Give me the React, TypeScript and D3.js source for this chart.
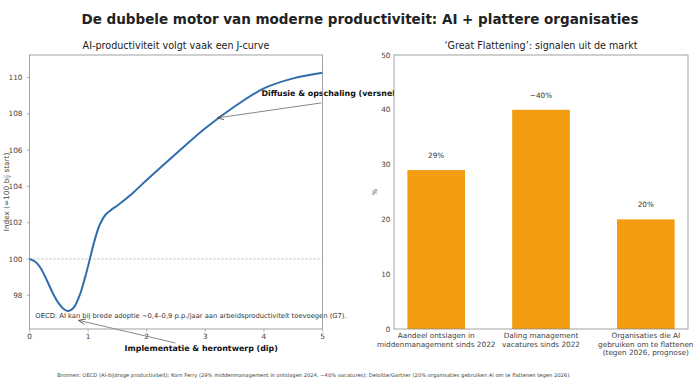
import React from "react";
import * as d3 from "d3";

const TITLE = "De dubbele motor van moderne productiviteit: AI + plattere organisaties";
const LEFT_TITLE = "AI-productiviteit volgt vaak een J-curve";
const RIGHT_TITLE = "\u2018Great Flattening\u2019: signalen uit de markt";
const FOOTER =
  "Bronnen: OECD (AI-bijdrage productiviteit); Korn Ferry (29% middenmanagement in ontslagen 2024, \u221240% vacatures); Deloitte/Gartner (20% organisaties gebruiken AI om te flattenen tegen 2026).";

// J-curve series (years since start, index =100 at start)
const jYears = [0, 0.1, 0.2, 0.3, 0.4, 0.5, 0.6, 0.66, 0.75, 0.85, 0.95, 1.03, 1.1, 1.2, 1.3, 1.4, 1.5, 1.75, 2, 2.5, 3, 3.5, 4, 4.5, 5];
const jIndex = [100, 99.85, 99.45, 98.8, 98.1, 97.55, 97.2, 97.13, 97.3, 97.95, 99.0, 100, 100.9, 101.9, 102.45, 102.72, 102.95, 103.6, 104.35, 105.8, 107.2, 108.4, 109.4, 109.95, 110.26];
const jXTicks = [0, 1, 2, 3, 4, 5];
const jYTicks = [98, 100, 102, 104, 106, 108, 110];

// Bar series
const barCategories = [
  ["Aandeel ontslagen in", "middenmanagement sinds 2022"],
  ["Daling management", "vacatures sinds 2022"],
  ["Organisaties die AI", "gebruiken om te flattenen", "(tegen 2026, prognose)"],
];
const barValues = [29, 40, 20];
const barLabels = ["29%", "\u221240%", "20%"];
const barYTicks = [0, 10, 20, 30, 40, 50];

const FONT = "DejaVu Sans, sans-serif";
const SPINE = "#8a8a8a";
const TICKTXT = "#444";
const TICK_FS = 7.3;

export default function App() {
  // left panel geometry
  const L = { x0: 29.5, x1: 322.5, y0: 55, y1: 329 };
  const x = d3.scaleLinear().domain([0, 5]).range([L.x0, L.x1]);
  const y = d3.scaleLinear().domain([96.14, 111.24]).range([L.y1, L.y0]);
  const pts = jYears.map((t, i) => [t, jIndex[i]] as [number, number]);
  const line = d3
    .line<[number, number]>()
    .x((d) => x(d[0]))
    .y((d) => y(d[1]))
    .curve(d3.curveCatmullRom.alpha(0.5));

  // right panel geometry
  const R = { x0: 394, x1: 688, y0: 55, y1: 329 };
  const bx = d3
    .scaleBand<number>()
    .domain(barValues.map((_, i) => i))
    .range([R.x0, R.x1])
    .paddingInner(0.45)
    .paddingOuter(0.1275);
  const by = d3.scaleLinear().domain([0, 50]).range([R.y1, R.y0]);

  // annotation anchors (data coords)
  const ann1Text = [3.957, 109.13];
  const ann1Tail = [4.98, 108.6];
  const ann1Tip = [3.2, 107.77];
  const ann2Text = [2.93, 95.1];
  const ann2Tail = [2.49, 95.37];
  const ann2Tip = [0.834, 96.62];

  return (
    <svg
      width={700}
      height={380}
      style={{ position: "absolute", left: 0, top: 0, background: "#fff" }}
      fontFamily={FONT}
    >
      <defs>
        <marker id="arr" viewBox="0 0 10 10" refX="10" refY="5" markerWidth="7" markerHeight="7" orient="auto-start-reverse" markerUnits="userSpaceOnUse">
          <path d="M0,1 L10,5 L0,9" fill="none" stroke="#555" strokeWidth={1.2} />
        </marker>
      </defs>
      <rect width={700} height={380} fill="#fff" />
      <text x={360} y={24} textAnchor="middle" fontSize={13.5} fontWeight="bold" fill="#222">
        {TITLE}
      </text>

      {/* LEFT PANEL */}
      <text x={(L.x0 + L.x1) / 2} y={48.5} textAnchor="middle" fontSize={9.6} fill="#222">
        {LEFT_TITLE}
      </text>
      <line x1={L.x0} x2={L.x1} y1={y(100)} y2={y(100)} stroke="#aaa" strokeWidth={0.8} strokeDasharray="2,2" />
      <path d={line(pts) || ""} fill="none" stroke="#2f6eaa" strokeWidth={2} />
      {jYTicks.map((t) => (
        <g key={"ly" + t}>
          <line x1={L.x0 - 3} x2={L.x0} y1={y(t)} y2={y(t)} stroke={SPINE} strokeWidth={0.6} />
          <text x={L.x0 - 7} y={y(t)} dy="0.35em" textAnchor="end" fontSize={TICK_FS} fill={TICKTXT}>
            {t}
          </text>
        </g>
      ))}
      {jXTicks.map((t) => (
        <g key={"lx" + t}>
          <line x1={x(t)} x2={x(t)} y1={L.y1} y2={L.y1 + 3} stroke={SPINE} strokeWidth={0.6} />
          <text x={x(t)} y={L.y1 + 5.2} dy="0.71em" textAnchor="middle" fontSize={TICK_FS} fill={TICKTXT}>
            {t}
          </text>
        </g>
      ))}
      <text
        transform={`translate(6.5,${(L.y0 + L.y1) / 2}) rotate(-90)`}
        textAnchor="middle"
        dy="0.35em"
        fontSize={TICK_FS}
        fill={TICKTXT}
      >
        Index (=100 bij start)
      </text>
      <text x={L.x0 + 0.02 * (L.x1 - L.x0)} y={L.y1 - 0.04 * (L.y1 - L.y0)} fontSize={6.75} fill="#333">
        OECD: AI kan bij brede adoptie ~0,4–0,9 p.p./jaar aan arbeidsproductiviteit toevoegen (G7).
      </text>
      <line x1={x(ann1Tail[0])} y1={y(ann1Tail[1])} x2={x(ann1Tip[0])} y2={y(ann1Tip[1])} stroke="#555" strokeWidth={0.7} markerEnd="url(#arr)" />
      <text x={x(ann1Text[0])} y={y(ann1Text[1])} dy="0.35em" fontSize={7.9} fontWeight="bold" fill="#111">
        Diffusie &amp; opschaling (versnelling)
      </text>
      <line x1={x(ann2Tail[0])} y1={y(ann2Tail[1])} x2={x(ann2Tip[0])} y2={y(ann2Tip[1])} stroke="#555" strokeWidth={0.7} markerEnd="url(#arr)" />
      <text x={x(ann2Text[0])} y={y(ann2Text[1])} dy="0.35em" textAnchor="middle" fontSize={7.9} fontWeight="bold" fill="#111">
        Implementatie &amp; herontwerp (dip)
      </text>
      <rect x={L.x0} y={L.y0} width={L.x1 - L.x0} height={L.y1 - L.y0} fill="none" stroke={SPINE} strokeWidth={0.8} />

      {/* RIGHT PANEL */}
      <rect x={R.x0} y={R.y0} width={R.x1 - R.x0} height={R.y1 - R.y0} fill="#fff" />
      <text x={(R.x0 + R.x1) / 2} y={48.5} textAnchor="middle" fontSize={9.6} fill="#222">
        {RIGHT_TITLE}
      </text>
      {barValues.map((v, i) => (
        <g key={"b" + i}>
          <rect x={bx(i)} y={by(v)} width={bx.bandwidth()} height={by(0) - by(v)} fill="#f39c12" />
          <text x={(bx(i) || 0) + bx.bandwidth() / 2} y={by(v + 2.7)} dy="0.35em" textAnchor="middle" fontSize={TICK_FS} fill="#333">
            {barLabels[i]}
          </text>
          {barCategories[i].map((ln, j) => (
            <text key={j} x={(bx(i) || 0) + bx.bandwidth() / 2} y={R.y1 + 4.2 + j * 8.3} dy="0.71em" textAnchor="middle" fontSize={TICK_FS} fill={TICKTXT}>
              {ln}
            </text>
          ))}
        </g>
      ))}
      {barYTicks.map((t) => (
        <text key={"ry" + t} x={R.x0 - 3.5} y={by(t)} dy="0.35em" textAnchor="end" fontSize={TICK_FS} fill={TICKTXT}>
          {t}
        </text>
      ))}
      <text transform={`translate(375,${(R.y0 + R.y1) / 2}) rotate(-90)`} textAnchor="middle" dy="0.35em" fontSize={6.5} fill={TICKTXT}>
        %
      </text>
      <rect x={R.x0} y={R.y0} width={R.x1 - R.x0} height={R.y1 - R.y0} fill="none" stroke={SPINE} strokeWidth={0.8} />

      <text x={314} y={375} dy="0.35em" textAnchor="middle" fontSize={5.2} fill="#444">
        {FOOTER}
      </text>
    </svg>
  );
}
